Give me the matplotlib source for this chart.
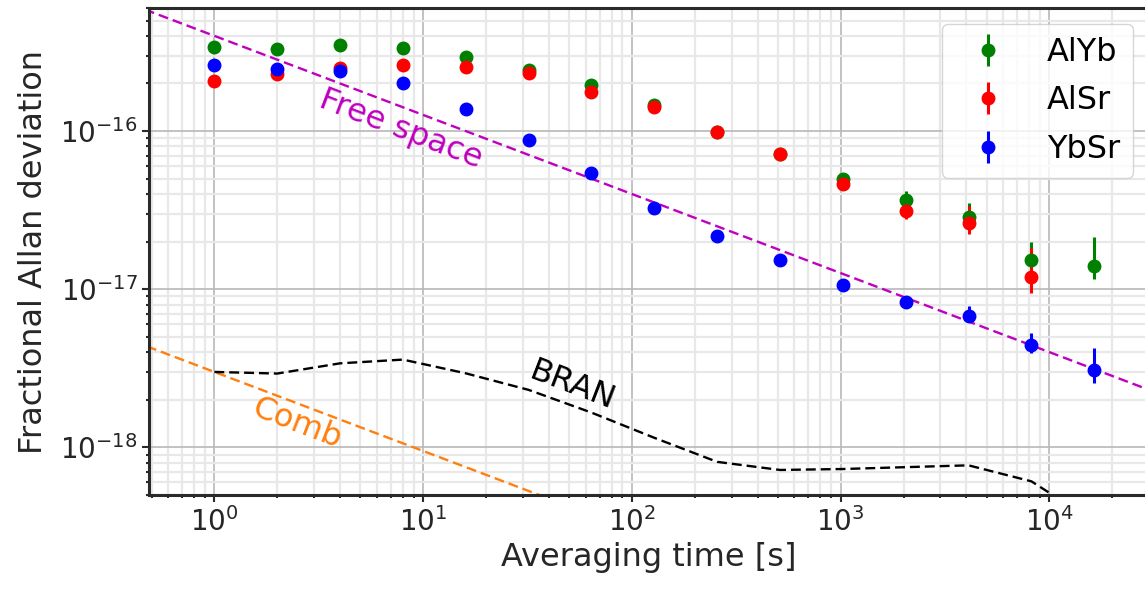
import numpy as np
import matplotlib
matplotlib.use("Agg")
import matplotlib.pyplot as plt
from matplotlib.ticker import NullFormatter, FixedLocator, LogLocator

# ---------------- data ----------------
tau = [1, 2, 4, 8, 16, 32, 64, 128, 256, 512, 1024, 2048, 4096, 8192, 16384]

alyb_tau = [1, 2, 4, 8, 16, 32, 64, 128, 256, 512, 1024, 2048, 4096, 8192, 16384]
alyb_val = [3.39e-16, 3.30e-16, 3.49e-16, 3.34e-16, 2.93e-16, 2.42e-16, 1.96e-16,
            1.46e-16, 9.9e-17, 7.2e-17, 4.95e-17, 3.65e-17, 2.85e-17, 1.52e-17, 1.40e-17]
alyb_lo = [4e-18, 4e-18, 4e-18, 4e-18, 4e-18, 4e-18, 3e-18,
           3e-18, 2e-18, 2e-18, 2e-18, 4e-18, 5e-18, 3e-18, 2.4e-18]
alyb_hi = [4e-18, 4e-18, 4e-18, 4e-18, 4e-18, 4e-18, 3e-18,
           3e-18, 2e-18, 2e-18, 2.5e-18, 5.5e-18, 6.6e-18, 4.7e-18, 7.3e-18]

alsr_tau = [1, 2, 4, 8, 16, 32, 64, 128, 256, 512, 1024, 2048, 4096, 8192]
alsr_val = [2.08e-16, 2.28e-16, 2.49e-16, 2.63e-16, 2.56e-16, 2.34e-16, 1.77e-16,
            1.41e-16, 9.8e-17, 7.17e-17, 4.6e-17, 3.11e-17, 2.63e-17, 1.20e-17]
alsr_lo = [3e-18, 3e-18, 3e-18, 3e-18, 3e-18, 3e-18, 3e-18,
           2e-18, 2e-18, 2e-18, 2e-18, 3.3e-18, 4.1e-18, 2.5e-18]
alsr_hi = [3e-18, 3e-18, 3e-18, 3e-18, 3e-18, 3e-18, 3e-18,
           2e-18, 2e-18, 2e-18, 2e-18, 3.5e-18, 7.1e-18, 6.3e-18]

ybsr_tau = [1, 2, 4, 8, 16, 32, 64, 128, 256, 512, 1024, 2048, 4096, 8192, 16384]
ybsr_val = [2.63e-16, 2.48e-16, 2.41e-16, 2.02e-16, 1.37e-16, 8.8e-17, 5.42e-17,
            3.28e-17, 2.16e-17, 1.52e-17, 1.07e-17, 8.3e-18, 6.8e-18, 4.41e-18, 3.08e-18]
ybsr_lo = [3e-18, 3e-18, 3e-18, 3e-18, 2e-18, 1.5e-18, 1e-18,
           6e-19, 4e-19, 3e-19, 3e-19, 3e-19, 6e-19, 4.3e-19, 5.2e-19]
ybsr_hi = [3e-18, 3e-18, 3e-18, 3e-18, 2e-18, 1.5e-18, 1e-18,
           6e-19, 4e-19, 3e-19, 3e-19, 4e-19, 9.8e-19, 8.5e-19, 1.14e-18]

bran_tau = [1, 2, 4, 8, 16, 32, 64, 128, 256, 512, 1024, 2048, 4096, 8192, 16384]
bran_val = [3.0e-18, 2.93e-18, 3.4e-18, 3.59e-18, 2.94e-18, 2.31e-18, 1.66e-18,
            1.15e-18, 8.1e-19, 7.2e-19, 7.3e-19, 7.5e-19, 7.7e-19, 6.1e-19, 3.4e-19]

line_tau = [0.3, 1, 10, 100, 1000, 10000, 100000]
free_space_val = [7.3e-16, 4.0e-16, 1.265e-16, 4.0e-17, 1.265e-17, 4.0e-18, 1.265e-18]
comb_val = [5.48e-18, 3.0e-18, 9.49e-19, 3.0e-19, 9.49e-20, 3.0e-20, 9.49e-21]

x_major_ticks = [1, 10, 100, 1000, 10000]
y_major_ticks = [1e-18, 1e-17, 1e-16]

series_names = ["AlYb", "AlSr", "YbSr"]
series_colors = ["g", "r", "b"]

# ---------------- figure ----------------
W, H = 1145, 593
fig = plt.figure(figsize=(W / 100, H / 100), dpi=100)
ax = fig.add_axes([149.3 / W, 1 - 495 / H, (1149.1 - 149.3) / W, (495 - 8) / H])
ax.set_xscale("log")
ax.set_yscale("log")

ax.grid(True, which="major", color="0.72", lw=1.2, zorder=0)
ax.grid(True, which="minor", color="0.91", lw=1.6, zorder=0)
ax.set_axisbelow(True)

dash = (4.2, 2.1)
ax.plot(line_tau, free_space_val, ls="--", color="m", lw=1.7, dashes=dash, zorder=2)
ax.plot(line_tau, comb_val, ls="--", color="#ff7f0e", lw=1.7, dashes=dash, zorder=2)
ax.plot(bran_tau, bran_val, ls="--", color="k", lw=1.7, dashes=dash, zorder=2)

data = [(alyb_tau, alyb_val, alyb_lo, alyb_hi),
        (alsr_tau, alsr_val, alsr_lo, alsr_hi),
        (ybsr_tau, ybsr_val, ybsr_lo, ybsr_hi)]
for (t, v, lo, hi), name, c in zip(data, series_names, series_colors):
    ax.errorbar(t, v, yerr=[lo, hi], fmt="o", color=c, markersize=9,
                elinewidth=2.2, capsize=0, label=name, zorder=3)

ax.text(7.84, 1.03e-16, "Free space", color="m", fontsize=23, rotation=-21,
        ha="center", va="center")
ax.text(52, 2.43e-18, "BRAN", color="k", fontsize=23, rotation=-21,
        ha="center", va="center")
ax.text(2.47, 1.42e-18, "Comb", color="#ff7f0e", fontsize=23, rotation=-21,
        ha="center", va="center")

ax.set_xlim(0.488, 3e4)
ax.set_ylim(5e-19, 6e-16)
ax.xaxis.set_major_locator(FixedLocator(x_major_ticks))
ax.yaxis.set_major_locator(FixedLocator(y_major_ticks))
ax.xaxis.set_minor_locator(LogLocator(base=10, subs=np.arange(2, 10), numticks=20))
ax.yaxis.set_minor_locator(LogLocator(base=10, subs=np.arange(2, 10), numticks=20))
ax.xaxis.set_minor_formatter(NullFormatter())
ax.yaxis.set_minor_formatter(NullFormatter())

ax.set_xlabel("Averaging time [s]", fontsize=23, color="#262626", labelpad=4)
ax.set_ylabel("Fractional Allan deviation", fontsize=23, color="#262626", labelpad=8)

for s in ax.spines.values():
    s.set_linewidth(2.2)
    s.set_color("#2a2a2a")
ax.tick_params(which="major", direction="out", length=5, width=1.5,
               labelsize=20, labelcolor="#262626", color="#2a2a2a")
ax.tick_params(which="minor", direction="out", length=2.5, width=1.5, color="#2a2a2a")

leg = ax.legend(loc="upper right", fontsize=23, framealpha=0.8, edgecolor="0.8",
                labelspacing=0.55, handlelength=2.1)

fig.savefig("out.png", dpi=100)
